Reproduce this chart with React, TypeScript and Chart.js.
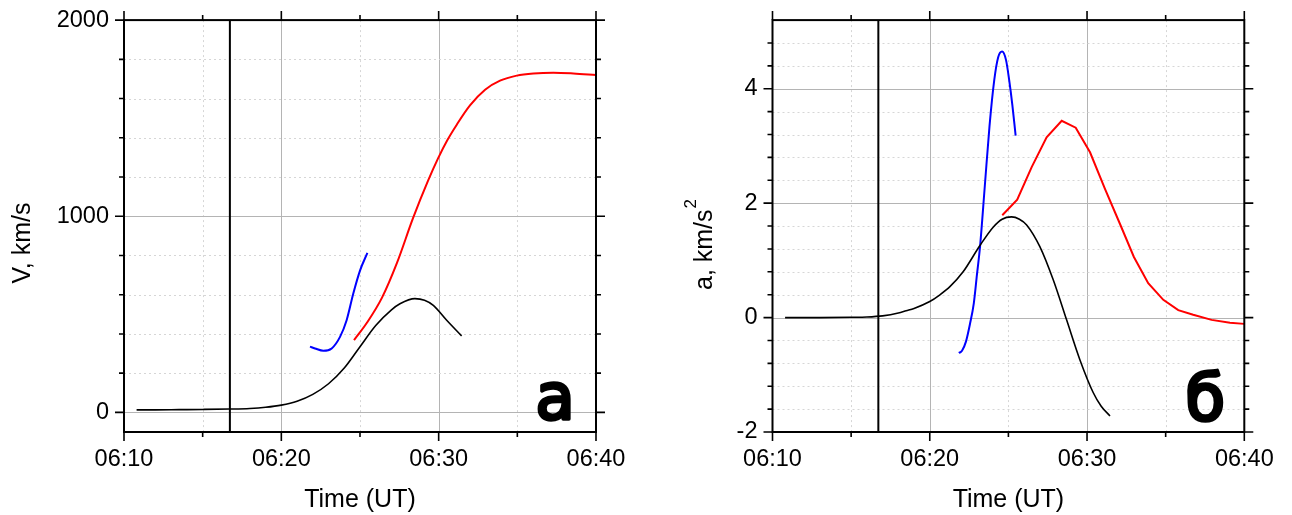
import React, { useEffect, useRef } from "react";
import { Chart, registerables } from "chart.js";

Chart.register(...registerables);

const FONT = "'Liberation Sans', Arial, sans-serif";

// ---- shared time axis (minutes after 06:00) ----
const xTicks = [10, 15, 20, 25, 30, 35, 40];
const xMajor = [10, 20, 30, 40];
const xLabels = ["06:10", "06:20", "06:30", "06:40"];
const eventTime = 16.73;

// ---- panel а: velocity ----
const vTicks = [0, 200, 400, 600, 800, 1000, 1200, 1400, 1600, 1800, 2000];
const vMajor = [0, 1000, 2000];
const vMin = -100;
const vMax = 2000;

const vBlackT = [10.8, 12, 13.5, 15, 16.7, 18, 19, 20, 21, 22, 23, 24, 25, 26, 27, 27.54, 28.49, 29.1, 29.66, 30.51, 31.46];
const vBlackY = [13, 13, 14, 15, 17, 20, 26, 37, 57, 92, 146, 226, 335, 443, 523, 554, 580, 572, 546, 470, 390];

const vRedT = [24.62, 25.45, 26.4, 27.35, 28.37, 29.32, 29.96, 30.53, 31.16, 31.99, 32.95, 33.9, 34.96, 36.02, 37.29, 38.56, 40.0];
const vRedY = [368, 458, 585, 762, 990, 1180, 1295, 1385, 1468, 1565, 1645, 1691, 1717, 1728, 1732, 1728, 1720];

const vBlueT = [21.82, 22.14, 22.67, 23.2, 23.73, 24.15, 24.57, 25.0, 25.47];
const vBlueY = [335, 326, 314, 326, 385, 470, 605, 723, 813];

// ---- panel б: acceleration ----
const aTicks = [-2, -1.6, -1.2, -0.8, -0.4, 0, 0.4, 0.8, 1.2, 1.6, 2, 2.4, 2.8, 3.2, 3.6, 4, 4.4, 4.8];
const aMajor = [-2, 0, 2, 4];
const aMin = -2;
const aMax = 5.2;

const aBlackT = [10.8, 13, 15, 16, 17, 18, 18.5, 19, 20, 20.6, 21.28, 22.12, 23.19, 24.03, 24.6, 25.2, 25.7, 26.16, 27.0, 27.85, 28.7, 29.55, 30.39, 30.9, 31.46];
const aBlackY = [0, 0, 0.005, 0.01, 0.03, 0.08, 0.12, 0.16, 0.28, 0.39, 0.54, 0.8, 1.26, 1.58, 1.72, 1.76, 1.72, 1.62, 1.24, 0.66, -0.04, -0.74, -1.31, -1.55, -1.72];

const aBlueT = [21.85, 22.05, 22.3, 22.55, 22.8, 23.0, 23.2, 23.5, 23.8, 24.1, 24.35, 24.6, 24.85, 25.05, 25.25, 25.46];
const aBlueY = [-0.62, -0.58, -0.42, -0.12, 0.25, 0.75, 1.25, 2.3, 3.35, 4.15, 4.55, 4.65, 4.5, 4.15, 3.72, 3.18];

const aRedT = [24.61, 25.56, 26.48, 27.43, 28.39, 29.28, 30.19, 31.14, 32.09, 32.98, 33.89, 34.85, 35.8, 36.75, 37.92, 39.09, 40.0];
const aRedY = [1.79, 2.06, 2.63, 3.15, 3.44, 3.32, 2.89, 2.25, 1.64, 1.06, 0.6, 0.31, 0.13, 0.05, -0.04, -0.09, -0.11];

const isIn = (arr: number[], v: number) => arr.some((m) => Math.abs(m - v) < 1e-6);

function lineDs(xs: number[], ys: number[], color: string, width: number, smooth = true) {
  return {
    data: xs.map((x, i) => ({ x, y: ys[i] })),
    borderColor: color,
    borderWidth: width,
    pointRadius: 0,
    fill: false,
    tension: 0,
    cubicInterpolationMode: smooth ? "monotone" : "default",
  };
}

const framePlugin = {
  id: "frameGrid",
  beforeDatasetsDraw(chart: any, _args: any, opts: any) {
    const { ctx, chartArea: a, scales } = chart;
    const x = scales.x;
    const y = scales.y;
    ctx.save();
    ctx.lineWidth = 1;
    for (const t of x.ticks) {
      const v = t.value;
      if (v <= x.min + 1e-9 || v >= x.max - 1e-9) continue;
      const px = Math.round(x.getPixelForValue(v)) + 0.5;
      const major = isIn(opts.xMajor, v);
      ctx.strokeStyle = major ? "#b4b4b4" : "#d6d6d6";
      ctx.setLineDash(major ? [] : [2, 3]);
      ctx.beginPath();
      ctx.moveTo(px, a.top);
      ctx.lineTo(px, a.bottom);
      ctx.stroke();
    }
    for (const t of y.ticks) {
      const v = t.value;
      if (v <= y.min + 1e-9 || v >= y.max - 1e-9) continue;
      const py = Math.round(y.getPixelForValue(v)) + 0.5;
      const major = isIn(opts.yMajor, v);
      ctx.strokeStyle = major ? "#b4b4b4" : "#d6d6d6";
      ctx.setLineDash(major ? [] : [2, 3]);
      ctx.beginPath();
      ctx.moveTo(a.left, py);
      ctx.lineTo(a.right, py);
      ctx.stroke();
    }
    ctx.restore();
  },
  afterDatasetsDraw(chart: any, _args: any, opts: any) {
    const { ctx, chartArea: a, scales } = chart;
    const x = scales.x;
    const y = scales.y;
    ctx.save();
    ctx.setLineDash([]);
    ctx.strokeStyle = "#000";
    ctx.lineWidth = 2;
    ctx.strokeRect(a.left, a.top, a.right - a.left, a.bottom - a.top);
    ctx.lineWidth = 1.6;
    ctx.beginPath();
    for (const t of x.ticks) {
      const v = t.value;
      const px = x.getPixelForValue(v);
      const len = isIn(opts.xMajor, v) ? 9 : 5;
      ctx.moveTo(px, a.bottom);
      ctx.lineTo(px, a.bottom + len);
      ctx.moveTo(px, a.top);
      ctx.lineTo(px, a.top - len);
    }
    for (const t of y.ticks) {
      const v = t.value;
      const py = y.getPixelForValue(v);
      const len = isIn(opts.yMajor, v) ? 9 : 5;
      ctx.moveTo(a.left, py);
      ctx.lineTo(a.left - len, py);
      ctx.moveTo(a.right, py);
      ctx.lineTo(a.right + len, py);
    }
    ctx.stroke();
    ctx.restore();
  },
  afterDraw(chart: any, _args: any, opts: any) {
    const { ctx, chartArea: a } = chart;
    ctx.save();
    // y title (rotated), with optional superscript
    ctx.translate(opts.titleX, opts.titleY);
    ctx.rotate(-Math.PI / 2);
    ctx.fillStyle = "#000";
    ctx.textBaseline = "alphabetic";
    ctx.textAlign = "left";
    ctx.font = `25px ${FONT}`;
    const mainW = ctx.measureText(opts.title).width;
    let supW = 0;
    if (opts.sup) {
      ctx.font = `17px ${FONT}`;
      supW = ctx.measureText(opts.sup).width;
    }
    const start = -(mainW + supW) / 2;
    ctx.font = `25px ${FONT}`;
    ctx.fillText(opts.title, start, 0);
    if (opts.sup) {
      ctx.font = `17px ${FONT}`;
      ctx.fillText(opts.sup, start + mainW + 1, -16);
    }
    ctx.restore();

    // panel letter
    ctx.save();
    ctx.font = `64px 'DejaVu Sans', sans-serif`;
    ctx.textAlign = "center";
    ctx.textBaseline = "alphabetic";
    ctx.fillStyle = "#000";
    ctx.strokeStyle = "#000";
    ctx.lineWidth = 3.5;
    ctx.lineJoin = "round";
    const lx = a.right - opts.letterDx;
    const ly = a.bottom - opts.letterDy;
    ctx.strokeText(opts.letter, lx, ly);
    ctx.fillText(opts.letter, lx, ly);
    ctx.restore();
  },
};

function makeConfig(p: {
  yMin: number;
  yMax: number;
  yTicks: number[];
  yMajor: number[];
  yWidth: number;
  padRight: number;
  datasets: any[];
  title: string;
  sup?: string;
  titleX: number;
  titleY: number;
  letter: string;
  letterDx: number;
  letterDy: number;
}): any {
  const tickFont = { family: FONT, size: 23.5 };
  return {
    type: "line",
    data: { datasets: p.datasets },
    plugins: [framePlugin],
    options: {
      responsive: false,
      animation: false,
      devicePixelRatio: 1,
      events: [],
      layout: { padding: { top: 18, right: p.padRight, bottom: 0, left: 0 } },
      plugins: {
        legend: { display: false },
        tooltip: { enabled: false },
        frameGrid: {
          xMajor,
          yMajor: p.yMajor,
          title: p.title,
          sup: p.sup,
          titleX: p.titleX,
          titleY: p.titleY,
          letter: p.letter,
          letterDx: p.letterDx,
          letterDy: p.letterDy,
        },
      },
      scales: {
        x: {
          type: "linear",
          min: 10,
          max: 40,
          afterBuildTicks: (s: any) => {
            s.ticks = xTicks.map((v) => ({ value: v }));
          },
          afterFit: (s: any) => {
            s.height = 83;
          },
          ticks: {
            autoSkip: false,
            maxRotation: 0,
            minRotation: 0,
            padding: 4,
            color: "#000",
            font: tickFont,
            callback: (v: number) => {
              const i = xMajor.findIndex((m) => Math.abs(m - v) < 1e-6);
              return i >= 0 ? xLabels[i] : "";
            },
          },
          grid: { display: true, drawOnChartArea: false, drawTicks: true, tickLength: 9, tickColor: "rgba(0,0,0,0)" },
          border: { display: false },
          title: {
            display: true,
            text: "Time (UT)",
            color: "#000",
            font: { family: FONT, size: 25 },
            padding: { top: 0, bottom: 0 },
          },
        },
        y: {
          type: "linear",
          min: p.yMin,
          max: p.yMax,
          afterBuildTicks: (s: any) => {
            s.ticks = p.yTicks.map((v) => ({ value: v }));
          },
          afterFit: (s: any) => {
            s.width = p.yWidth;
          },
          ticks: {
            autoSkip: false,
            padding: 6,
            color: "#000",
            font: tickFont,
            callback: (v: number) => (isIn(p.yMajor, v) ? String(Math.round(v)) : ""),
          },
          grid: { display: true, drawOnChartArea: false, drawTicks: true, tickLength: 9, tickColor: "rgba(0,0,0,0)" },
          border: { display: false },
          title: { display: false },
        },
      },
    },
  };
}

function Panel({ build, left }: { build: () => any; left: number }) {
  const ref = useRef<HTMLCanvasElement>(null);
  useEffect(() => {
    const chart = new Chart(ref.current as HTMLCanvasElement, build());
    return () => chart.destroy();
  }, []);
  return (
    <canvas
      ref={ref}
      width={646}
      height={515}
      style={{ position: "absolute", left, top: 0, width: 646, height: 515 }}
    />
  );
}

const buildV = () =>
  makeConfig({
    yMin: vMin,
    yMax: vMax,
    yTicks: vTicks,
    yMajor: vMajor,
    yWidth: 124,
    padRight: 50,
    datasets: [
      lineDs([eventTime, eventTime], [vMin, vMax], "#000", 2, false),
      lineDs(vBlackT, vBlackY, "#000", 1.6),
      lineDs(vRedT, vRedY, "#ff0000", 2),
      lineDs(vBlueT, vBlueY, "#0000ff", 2),
    ],
    title: "V, km/s",
    titleX: 30,
    titleY: 243,
    letter: "а",
    letterDx: 41,
    letterDy: 13,
  });

const buildA = () =>
  makeConfig({
    yMin: aMin,
    yMax: aMax,
    yTicks: aTicks,
    yMajor: aMajor,
    yWidth: 126.5,
    padRight: 47.7,
    datasets: [
      lineDs([eventTime, eventTime], [aMin, aMax], "#000", 2, false),
      lineDs(aBlackT, aBlackY, "#000", 1.6),
      lineDs(aRedT, aRedY, "#ff0000", 2, false),
      lineDs(aBlueT, aBlueY, "#0000ff", 2),
    ],
    title: "a, km/s",
    sup: "2",
    titleX: 65.5,
    titleY: 245,
    letter: "б",
    letterDx: 39,
    letterDy: 12,
  });

export default function App() {
  return (
    <div style={{ position: "fixed", left: 0, top: 0, width: 1292, height: 515, background: "#fff" }}>
      <Panel build={buildV} left={0} />
      <Panel build={buildA} left={646} />
    </div>
  );
}
